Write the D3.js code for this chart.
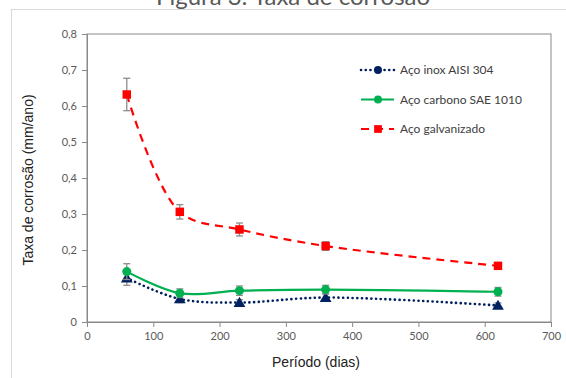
<!DOCTYPE html>
<html><head><meta charset="utf-8">
<script src="https://cdn.jsdelivr.net/npm/d3@7"></script>
<style>body{margin:0;background:#fff}svg{display:block}</style>
</head><body>
<svg id="c" width="566" height="378"></svg>
<script>
const days = [60, 140, 230, 360, 620];
const inox = [0.122, 0.064, 0.054, 0.068, 0.046];
const inoxErr = [0.02, 0.01, 0.008, 0.01, 0.007];
const carbono = [0.14, 0.08, 0.087, 0.09, 0.084];
const carbonoErr = [0.022, 0.012, 0.013, 0.012, 0.012];
const galv = [0.632, 0.306, 0.257, 0.211, 0.156];
const galvErr = [0.045, 0.02, 0.018, 0.012, 0.008];
const xTicks = [0, 100, 200, 300, 400, 500, 600, 700];
const yTicks = [0, 0.1, 0.2, 0.3, 0.4, 0.5, 0.6, 0.7, 0.8];
const seriesNames = ["Aço inox AISI 304", "Aço carbono SAE 1010", "Aço galvanizado"];

const svg = d3.select("#c");
const x = d3.scaleLinear().domain([0, 700]).range([87, 551]);
const y = d3.scaleLinear().domain([0, 0.8]).range([322, 34]);
const fmt = d => d3.format(".1f")(d).replace(".", ",").replace(/^0,0$/, "0");

// outer frame
svg.append("rect").attr("x", 11.5).attr("y", 9.5).attr("width", 600).attr("height", 400)
  .attr("fill", "none").attr("stroke", "#d9d9d9");
// title (cut off at the top edge, as in the reference)
svg.append("text").attr("x", 293).attr("y", 5).attr("text-anchor", "middle")
  .attr("font-family", "Lato, sans-serif").attr("font-size", 24).attr("fill", "#595959")
  .text("Figura 3: Taxa de corrosão");

// plot box
svg.append("rect").attr("x", x(0)).attr("y", y(0.8)).attr("width", x(700) - x(0)).attr("height", y(0) - y(0.8))
  .attr("fill", "none").attr("stroke", "#898989");

const gx = svg.append("g").attr("transform", `translate(0,${y(0)})`)
  .call(d3.axisBottom(x).tickValues(xTicks).tickSize(5).tickPadding(5));
const gy = svg.append("g").attr("transform", `translate(${x(0)},0)`)
  .call(d3.axisLeft(y).tickValues(yTicks).tickSize(5).tickPadding(5).tickFormat(fmt));
[gx, gy].forEach(g => {
  g.select(".domain").attr("stroke", "#898989");
  g.selectAll(".tick line").attr("stroke", "#898989");
  g.selectAll("text").attr("font-family", "Lato, sans-serif").attr("font-size", 11).attr("fill", "#595959");
});

svg.append("text").attr("x", 316).attr("y", 367).attr("text-anchor", "middle")
  .attr("font-family", "Liberation Sans, Arial, sans-serif").attr("font-size", 14).attr("fill", "#222")
  .text("Período (dias)");
svg.append("text").attr("transform", "translate(33,180) rotate(-90)").attr("text-anchor", "middle")
  .attr("font-family", "Liberation Sans, Arial, sans-serif").attr("font-size", 14).attr("fill", "#222")
  .text("Taxa de corrosão (mm/ano)");

const series = [
  {vals: inox, err: inoxErr, color: "#002060", dash: "0.1 4.6", cap: "round", w: 2.6, sym: d3.symbolTriangle, size: 60, legSym: d3.symbolCircle, legSize: 50},
  {vals: carbono, err: carbonoErr, color: "#00B050", dash: null, cap: "butt", w: 2.2, sym: d3.symbolCircle, size: 64, legSym: d3.symbolCircle, legSize: 50},
  {vals: galv, err: galvErr, color: "#FF0000", dash: "8 6", cap: "butt", w: 2.2, sym: d3.symbolSquare, size: 72, legSym: d3.symbolSquare, legSize: 60}
];

const line = d3.line().x(d => x(d[0])).y(d => y(d[1])).curve(d3.curveCatmullRom.alpha(0.5));

series.forEach(s => {
  const pts = days.map((d, i) => [d, s.vals[i], s.err[i]]);
  svg.append("path").datum(pts).attr("d", line).attr("fill", "none")
    .attr("stroke", s.color).attr("stroke-width", s.w).attr("stroke-dasharray", s.dash)
    .attr("stroke-linecap", s.cap);
});
series.forEach(s => {
  const pts = days.map((d, i) => [d, s.vals[i], s.err[i]]);
  const eb = svg.append("g").attr("stroke", "#8c8c8c").attr("stroke-width", 1.3);
  pts.forEach(p => {
    eb.append("line").attr("x1", x(p[0])).attr("x2", x(p[0])).attr("y1", y(p[1] - p[2])).attr("y2", y(p[1] + p[2]));
    [p[1] - p[2], p[1] + p[2]].forEach(v => eb.append("line").attr("x1", x(p[0]) - 3.5).attr("x2", x(p[0]) + 3.5).attr("y1", y(v)).attr("y2", y(v)));
  });
  svg.append("g").selectAll("path").data(pts).join("path")
    .attr("transform", p => `translate(${x(p[0])},${y(p[1]) + (s.sym === d3.symbolTriangle ? 1 : 0)})`)
    .attr("d", d3.symbol().type(s.sym).size(s.size)).attr("fill", s.color);
});

// legend
const leg = svg.append("g");
series.forEach((s, i) => {
  const ly = 70 + i * 29.5;
  leg.append("line").attr("x1", 361).attr("x2", 394).attr("y1", ly).attr("y2", ly)
    .attr("stroke", s.color).attr("stroke-width", s.w).attr("stroke-dasharray", s.dash).attr("stroke-linecap", s.cap);
  leg.append("path").attr("transform", `translate(378,${ly})`).attr("d", d3.symbol().type(s.legSym).size(s.legSize)).attr("fill", s.color);
  leg.append("text").attr("x", 400).attr("y", ly + 4).attr("font-family", "Lato, sans-serif").attr("font-size", 12)
    .attr("fill", "#404040").text(seriesNames[i]);
});
</script>
</body></html>
